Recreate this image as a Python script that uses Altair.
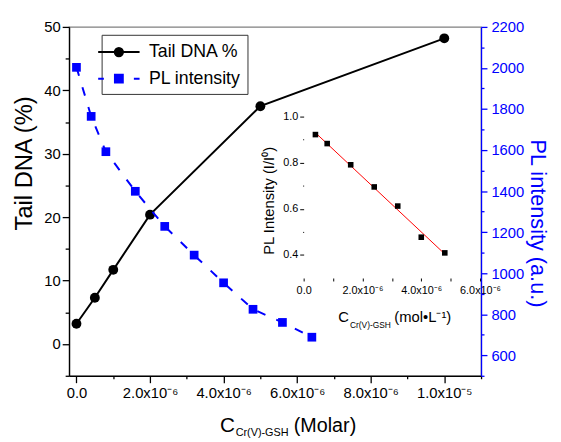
import altair as alt
import pandas as pd

FONT = "Liberation Sans"
BLUE = "#0000FF"

# Concentrations are stored in units of 1e-6 M
tail_conc = [0.0, 0.5, 1.0, 2.0, 5.0, 10.0]
tail_dna = [3.2, 7.3, 11.7, 20.4, 37.5, 48.2]

pl_conc = [0.0, 0.4, 0.8, 1.6, 2.4, 3.2, 4.0, 4.8, 5.6, 6.4]
pl_int = [2003, 1764, 1592, 1399, 1228, 1088, 953, 824, 760, 688]

inset_conc = [0.4, 0.8, 1.6, 2.4, 3.2, 4.0, 4.8]
inset_ratio = [0.922, 0.883, 0.791, 0.695, 0.612, 0.477, 0.409]

series = ["Tail DNA %", "PL intensity"]
x_ticks = list(range(0, 12))
left_ticks = list(range(-5, 55, 5))
right_ticks = list(range(500, 2300, 100))
inset_x_ticks = [0, 1, 2, 3, 4, 5, 6]
inset_y_ticks = [0.4, 0.5, 0.6, 0.7, 0.8, 0.9, 1.0]

tail_df = pd.DataFrame({"c": tail_conc, "v": tail_dna})
pl_df = pd.DataFrame({"c": pl_conc, "v": pl_int})
inset_df = pd.DataFrame({"c": inset_conc, "r": inset_ratio})
legend_df = pd.DataFrame({"s": series})

x_scale = alt.Scale(domain=[-0.2, 11], nice=False, zero=False)
x_axis = alt.Axis(
    orient="bottom", values=x_ticks, title=None,
    labelExpr="datum.value == 0 ? '0.0' : (datum.value % 2 ? '' : (datum.value < 10 ? format(datum.value, '.1f') + 'x10⁻⁶' : '1.0x10⁻⁵'))",
    tickSize={"condition": {"test": "datum.value % 2 !== 0", "value": 3}, "value": 7},
    domainColor="black", tickColor="black", labelColor="black", labelFont=FONT,
    labelFontSize=15, labelPadding=3, domainWidth=1.3, tickWidth=1.3,
    labelOverlap=False, labelFlush=False,
)

left_axis = alt.Axis(
    orient="left", values=left_ticks,
    labelExpr="datum.value % 10 ? '' : format(datum.value, 'd')",
    tickSize={"condition": {"test": "datum.value % 10 !== 0", "value": 4}, "value": 7},
    domainColor="black", tickColor="black", labelColor="black", labelFont=FONT,
    labelFontSize=15, labelPadding=2, domainWidth=1.3, tickWidth=1.3, labelOverlap=False,
    title="Tail DNA (%)", titleFont=FONT, titleFontSize=24, titleFontWeight="normal",
    titleColor="black", titleX=-45, titleY=138, titleBaseline="middle",
)

right_axis = alt.Axis(
    orient="right", values=right_ticks,
    labelExpr="datum.value % 200 ? '' : format(datum.value, 'd')",
    tickSize={"condition": {"test": "datum.value % 200 !== 0", "value": 3}, "value": 6},
    domainColor=BLUE, tickColor=BLUE, labelColor=BLUE, labelFont=FONT,
    labelFontSize=15, labelPadding=4, domainWidth=1.3, tickWidth=1.3, labelOverlap=False,
    title="PL intensity (a.u.)", titleFont=FONT, titleFontSize=22, titleFontWeight="normal",
    titleColor=BLUE, titleX=57, titleY=199, titleBaseline="middle",
)

tail = alt.Chart(tail_df).mark_line(
    color="black", strokeWidth=2,
    point=alt.OverlayMarkDef(filled=True, size=100, color="black", shape="circle", opacity=1),
).encode(
    x=alt.X("c:Q", scale=x_scale, axis=x_axis),
    y=alt.Y("v:Q", scale=alt.Scale(domain=[-5, 50], nice=False, zero=False), axis=left_axis),
)

pl = alt.Chart(pl_df).mark_line(
    color=BLUE, strokeWidth=2, strokeDash=[9, 12],
    point=alt.OverlayMarkDef(filled=True, size=78, color=BLUE, shape="square", opacity=1),
).encode(
    x=alt.X("c:Q", scale=x_scale, axis=None),
    y=alt.Y("v:Q", scale=alt.Scale(domain=[500, 2200], nice=False, zero=False), axis=right_axis),
)

# Inset
ix_scale = alt.Scale(domain=[0, 6], range=[238, 417], nice=False, zero=False)
iy_scale = alt.Scale(domain=[0.3, 1.05], range=[254.8, 79.3], nice=False, zero=False)

inset_x_axis = alt.Axis(
    orient="bottom", offset=-99.2, values=inset_x_ticks, title=None, domain=False,
    labelExpr="datum.value == 0 ? '0.0' : (datum.value % 2 ? '' : format(datum.value, '.1f') + 'x10⁻⁶')",
    tickSize=3, tickColor="black", labelColor="black", labelFont=FONT, labelFontSize=11,
    labelPadding=4, labelOverlap=False, labelFlush=False,
)
inset_y_axis = alt.Axis(
    orient="left", offset=-238, values=inset_y_ticks, domain=False,
    labelExpr="round(datum.value * 10) % 2 ? '' : format(datum.value, '.1f')",
    tickSize={"condition": {"test": "round(datum.value * 10) % 2 !== 0", "value": 1}, "value": 4},
    tickColor="black", labelColor="black", labelFont=FONT, labelFontSize=11, labelPadding=2,
    labelOverlap=False,
    title="PL Intensity (I/I⁰)", titleFont=FONT, titleFontSize=15, titleFontWeight="normal",
    titleColor="black", titleX=-36, titleY=176, titleBaseline="middle",
)

inset_pts = alt.Chart(inset_df).mark_square(color="black", size=32, opacity=1).encode(
    x=alt.X("c:Q", scale=ix_scale, axis=inset_x_axis),
    y=alt.Y("r:Q", scale=iy_scale, axis=inset_y_axis),
)
inset_fit = alt.Chart(inset_df).transform_regression("c", "r").mark_line(
    color="#FF0000", strokeWidth=1
).encode(
    x=alt.X("c:Q", scale=ix_scale, axis=None),
    y=alt.Y("r:Q", scale=iy_scale, axis=None),
)

# Legend (line + marker glyphs)
tail_sym = "M-2,0H2M-0.4,0A0.4,0.4,0,1,1,0.4,0A0.4,0.4,0,1,1,-0.4,0Z"
pl_sym = "M-2,0H-1.45M1.45,0H2M-0.38,-0.38H0.38V0.38H-0.38Z"
leg_def = alt.Legend(
    orient="none", legendX=33, legendY=8, title=None, labelFont=FONT, labelFontSize=18,
    labelColor="black", symbolSize=441, symbolStrokeWidth=2, symbolOpacity=1,
    strokeColor="#333333", fillColor="white", padding=6, rowPadding=6, labelOffset=19, offset=0,
)
leg = alt.Chart(legend_df).transform_filter("false").mark_point(filled=False, opacity=1).encode(
    fill=alt.Fill("s:N", scale=alt.Scale(domain=series, range=["black", BLUE]), legend=leg_def),
    stroke=alt.Stroke("s:N", scale=alt.Scale(domain=series, range=["black", BLUE]), legend=leg_def),
    shape=alt.Shape("s:N", scale=alt.Scale(domain=series, range=[tail_sym, pl_sym]), legend=leg_def),
)


def txt(s, x, y, size):
    return alt.Chart(pd.DataFrame({"t": [s]})).mark_text(
        align="left", baseline="alphabetic", font=FONT, fontSize=size, color="black"
    ).encode(text="t:N", x=alt.value(x), y=alt.value(y))


titles = [
    txt("C", 153, 411, 21),
    txt("Cr(V)-GSH", 169, 415, 11),
    txt("(Molar)", 228, 411, 20),
    txt("C", 273, 299, 15),
    txt("Cr(V)-GSH", 285, 306, 8.5),
    txt("(mol•L⁻¹)", 330, 299, 15),
]

chart = alt.layer(tail, pl, inset_fit, inset_pts, leg, *titles).resolve_scale(
    x="independent", y="independent"
).properties(
    width=418, height=354,
    autosize=alt.AutoSizeParams(type="none"),
    padding={"left": 62, "top": 16, "right": 73, "bottom": 64},
).configure_view(stroke="#808080", strokeWidth=1.3).configure_axis(grid=False)

chart.save("out.html", embed_options={"renderer": "svg", "actions": False})
